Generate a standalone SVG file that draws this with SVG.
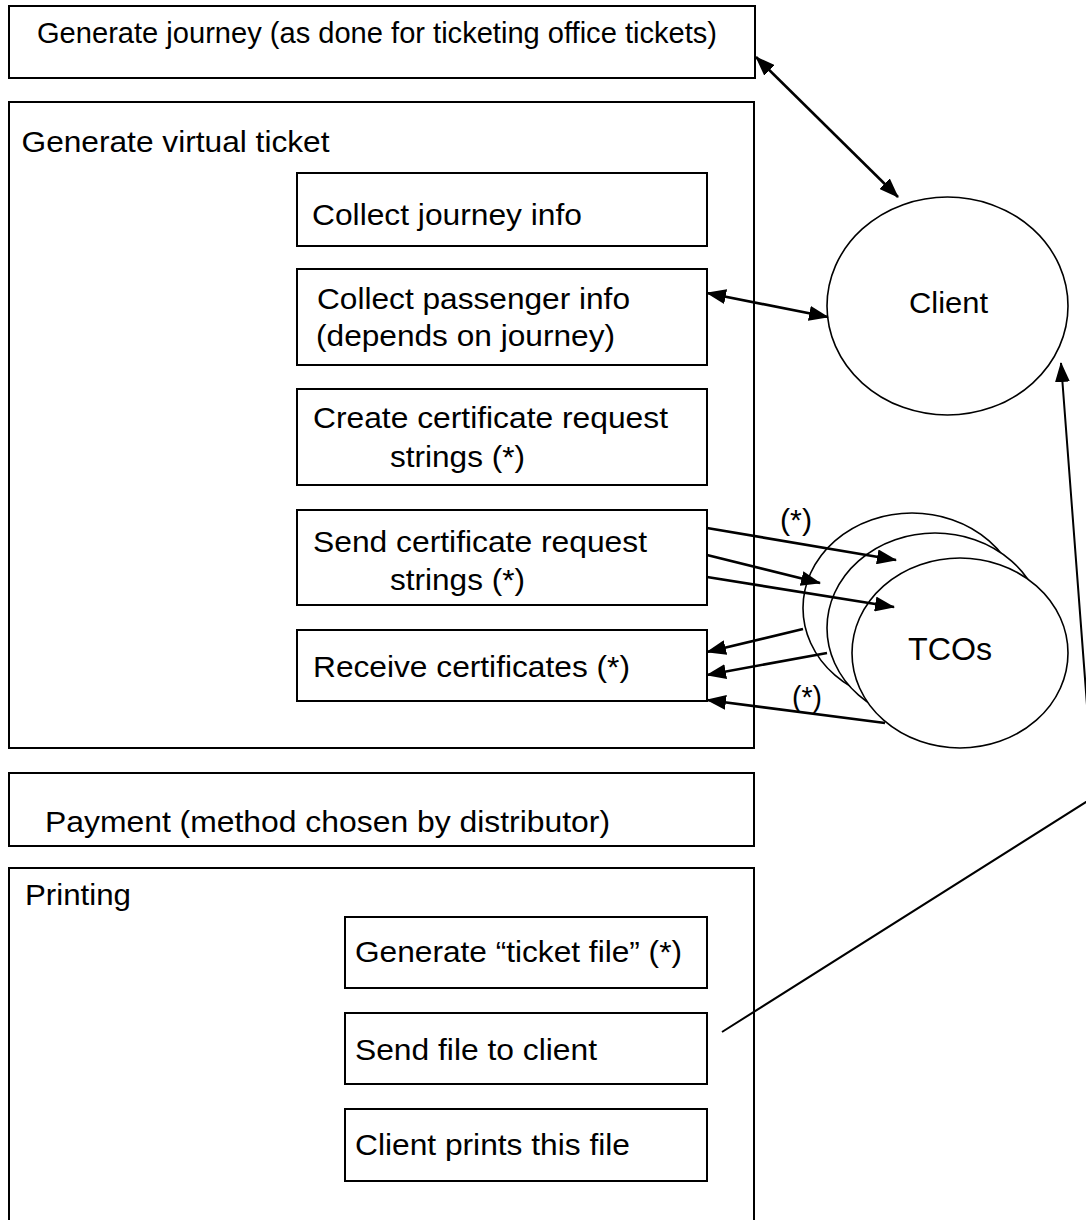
<svg xmlns="http://www.w3.org/2000/svg" width="1086" height="1220" viewBox="0 0 1086 1220">
<style>
  .box { fill: #fff; stroke: #000; stroke-width: 2; }
  .ell { fill: #fff; stroke: #000; stroke-width: 1.6; }
  text { font-family: "Liberation Sans", Arial, sans-serif; fill: #000; }
  .t { font-size: 29px; }
  .conn { fill: none; stroke: #000; stroke-width: 2.6; }
  .thin { fill: none; stroke: #000; stroke-width: 2; }
</style>
<defs>
  <marker id="ah" markerUnits="userSpaceOnUse" markerWidth="20" markerHeight="15" refX="19" refY="7.5" orient="auto-start-reverse" viewBox="0 0 20 15">
    <path d="M0,0 L20,7.5 L0,15 z" fill="#000"/>
  </marker>
</defs>
<rect width="1086" height="1220" fill="#fff"/>

<g id="generate-journey">
  <rect class="box" x="9" y="6" width="746" height="72"/>
  <text class="t" x="37" y="43" font-size="26" textLength="680" lengthAdjust="spacingAndGlyphs">Generate journey (as done for ticketing office tickets)</text>
</g>

<g id="generate-virtual-ticket">
  <rect class="box" x="9" y="102" width="745" height="646"/>
  <text class="t" x="21.5" y="152" style="font-size:30px" textLength="308" lengthAdjust="spacingAndGlyphs">Generate virtual ticket</text>
</g>

<g id="collect-journey-info">
  <rect class="box" x="297" y="173" width="410" height="73"/>
  <text class="t" x="312" y="225" textLength="270" lengthAdjust="spacingAndGlyphs">Collect journey info</text>
</g>

<g id="collect-passenger-info">
  <rect class="box" x="297" y="269" width="410" height="96"/>
  <text class="t" x="317" y="309" textLength="313" lengthAdjust="spacingAndGlyphs">Collect passenger info</text>
  <text class="t" x="316" y="346" textLength="299" lengthAdjust="spacingAndGlyphs">(depends on journey)</text>
</g>

<g id="create-certificate-request">
  <rect class="box" x="297" y="389" width="410" height="96"/>
  <text class="t" x="313" y="428" textLength="355" lengthAdjust="spacingAndGlyphs">Create certificate request</text>
  <text class="t" x="390" y="467" textLength="135" lengthAdjust="spacingAndGlyphs">strings (*)</text>
</g>

<g id="send-certificate-request">
  <rect class="box" x="297" y="510" width="410" height="95"/>
  <text class="t" x="313" y="552" textLength="334" lengthAdjust="spacingAndGlyphs">Send certificate request</text>
  <text class="t" x="390" y="590" textLength="135" lengthAdjust="spacingAndGlyphs">strings (*)</text>
</g>

<g id="receive-certificates">
  <rect class="box" x="297" y="630" width="410" height="71"/>
  <text class="t" x="313" y="677" textLength="317" lengthAdjust="spacingAndGlyphs">Receive certificates (*)</text>
</g>

<g id="payment">
  <rect class="box" x="9" y="773" width="745" height="73"/>
  <text class="t" x="45" y="832" style="font-size:30px" textLength="565" lengthAdjust="spacingAndGlyphs">Payment (method chosen by distributor)</text>
</g>

<g id="printing">
  <rect class="box" x="9" y="868" width="745" height="400"/>
  <text class="t" x="25" y="905" style="font-size:30px" textLength="106" lengthAdjust="spacingAndGlyphs">Printing</text>
</g>

<g id="generate-ticket-file">
  <rect class="box" x="345" y="917" width="362" height="71"/>
  <text class="t" x="355" y="962" style="font-size:30px" textLength="327" lengthAdjust="spacingAndGlyphs">Generate “ticket file” (*)</text>
</g>

<g id="send-file-to-client">
  <rect class="box" x="345" y="1013" width="362" height="71"/>
  <text class="t" x="355" y="1060" style="font-size:30px" textLength="242" lengthAdjust="spacingAndGlyphs">Send file to client</text>
</g>

<g id="client-prints-file">
  <rect class="box" x="345" y="1109" width="362" height="72"/>
  <text class="t" x="355" y="1155" style="font-size:30px" textLength="275" lengthAdjust="spacingAndGlyphs">Client prints this file</text>
</g>

<g id="client">
  <ellipse class="ell" cx="947.5" cy="306" rx="120.5" ry="109"/>
  <text class="t" x="909" y="313" textLength="79" lengthAdjust="spacingAndGlyphs">Client</text>
</g>

<g id="tcos">
  <ellipse class="ell" cx="912" cy="608" rx="109" ry="95"/>
  <ellipse class="ell" cx="935" cy="628" rx="108" ry="95"/>
  <ellipse class="ell" cx="960" cy="653" rx="108" ry="95"/>
  <text class="t" x="908" y="660" style="font-size:31px" textLength="84" lengthAdjust="spacingAndGlyphs">TCOs</text>
</g>

<g id="connectors">
  <line class="conn" x1="756" y1="57" x2="898" y2="197" marker-start="url(#ah)" marker-end="url(#ah)"/>
  <line class="conn" x1="707" y1="293" x2="828" y2="317" marker-start="url(#ah)" marker-end="url(#ah)"/>
  <line class="conn" x1="707" y1="528" x2="896" y2="560" marker-end="url(#ah)"/>
  <line class="conn" x1="707" y1="555" x2="820" y2="583" marker-end="url(#ah)"/>
  <line class="conn" x1="707" y1="577" x2="894" y2="607" marker-end="url(#ah)"/>
  <line class="conn" x1="803" y1="629" x2="707" y2="652" marker-end="url(#ah)"/>
  <line class="conn" x1="827" y1="653" x2="707" y2="675" marker-end="url(#ah)"/>
  <line class="conn" x1="885" y1="723" x2="707" y2="700" marker-end="url(#ah)"/>
  <polyline class="thin" points="722,1032 1094,797 1061,363" marker-end="url(#ah)"/>
  <text x="780" y="530" style="font-size:30px" textLength="32" lengthAdjust="spacingAndGlyphs">(*)</text>
  <text x="792" y="707" style="font-size:30px" textLength="30" lengthAdjust="spacingAndGlyphs">(*)</text>
</g>
</svg>
